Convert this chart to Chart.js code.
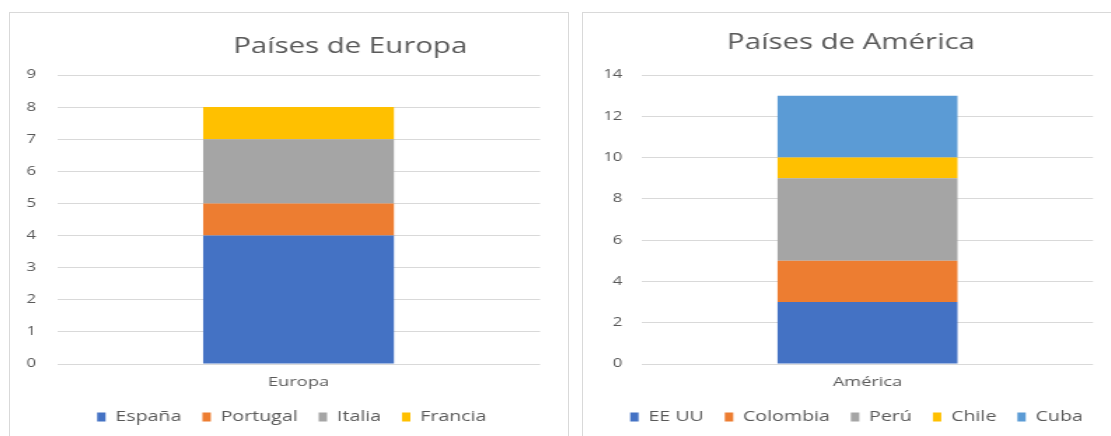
<!DOCTYPE html>
<html>
<head>
<meta charset="utf-8">
<script src="https://cdn.jsdelivr.net/npm/chart.js@4"></script>
<style>
  body { margin: 0; background: #fff; width: 1111px; height: 436px; overflow: hidden; position: relative; }
  .caja { position: absolute; top: 12px; height: 430px; border: 1px solid #d9d9d9; background: #fff; overflow: hidden; }
  #cajaEuropa { left: 9px; width: 558px; }
  #cajaAmerica { left: 582px; width: 542px; }
  .estirado { transform: scaleX(1.4); transform-origin: 0 0; }
  canvas { display: block; }
</style>
</head>
<body>
<div class="caja" id="cajaEuropa"><div class="estirado"><canvas id="graficoEuropa" width="399" height="424"></canvas></div></div>
<div class="caja" id="cajaAmerica"><div class="estirado"><canvas id="graficoAmerica" width="387" height="424"></canvas></div></div>
<script>
// Datos de Europa
const categoriaEuropa = ['Europa'];
const paisesEuropa = ['España', 'Portugal', 'Italia', 'Francia'];
const valoresEuropa = [4, 1, 2, 1];

// Datos de América
const categoriaAmerica = ['América'];
const paisesAmerica = ['EE UU', 'Colombia', 'Perú', 'Chile', 'Cuba'];
const valoresAmerica = [3, 2, 4, 1, 3];

const colores = ['#4472C4', '#ED7D31', '#A5A5A5', '#FFC000', '#5B9BD5'];
const fuente = "'Open Sans', 'DejaVu Sans', sans-serif";
const gris = '#595959';

// Título en posición fija y leyenda algo desplazada, como en el original de Excel
const ajustesExcel = {
  id: 'ajustesExcel',
  beforeDraw(chart, args, opts) {
    const leyenda = chart.legend;
    if (leyenda && !leyenda._desplazada) {
      leyenda.left += opts.leyendaX;
      leyenda.right += opts.leyendaX;
      leyenda._desplazada = true;
    }
  },
  afterDraw(chart, args, opts) {
    const ctx = chart.ctx;
    ctx.save();
    ctx.font = '21px ' + fuente;
    ctx.fillStyle = gris;
    ctx.textAlign = 'center';
    ctx.textBaseline = 'alphabetic';
    ctx.fillText(opts.texto, opts.x, opts.y);
    ctx.restore();
  },
};

function crearGrafico(id, titulo, tx, ty, leyendaX, categorias, paises, valores, maxY, paso, anchoEjeY, padEje, derecha, porcentaje) {
  const ctx = document.getElementById(id).getContext('2d');
  return new Chart(ctx, {
    type: 'bar',
    data: {
      labels: categorias,
      datasets: paises.map((p, i) => ({
        label: p,
        data: [valores[i]],
        backgroundColor: colores[i],
        borderWidth: 0,
        barPercentage: 1,
        categoryPercentage: porcentaje,
      })),
    },
    plugins: [ajustesExcel],
    options: {
      responsive: false,
      animation: false,
      layout: { padding: { left: 0, right: derecha, top: 62, bottom: 3 } },
      plugins: {
        ajustesExcel: { texto: titulo, x: tx, y: ty, leyendaX: leyendaX },
        legend: {
          position: 'bottom',
          labels: {
            color: gris,
            font: { family: fuente, size: 14 },
            boxWidth: 6,
            boxHeight: 9,
            padding: 15,
          },
        },
        tooltip: { enabled: false },
      },
      scales: {
        x: {
          stacked: true,
          grid: { display: false, drawTicks: false },
          border: { display: false },
          ticks: { color: gris, font: { family: fuente, size: 13 }, padding: 10 },
          afterFit: scale => { scale.height = 31; },
        },
        y: {
          stacked: true,
          min: 0,
          max: maxY,
          ticks: { stepSize: paso, color: gris, font: { family: fuente, size: 12 }, padding: padEje },
          grid: { color: '#d9d9d9', drawTicks: false },
          border: { display: false },
          afterFit: scale => { scale.width = anchoEjeY; },
        },
      },
    },
  });
}

crearGrafico('graficoEuropa', 'Países de Europa', 243, 40, 12, categoriaEuropa, paisesEuropa, valoresEuropa, 9, 1, 33.6, 15, 20.4, 0.395);
crearGrafico('graficoAmerica', 'Países de América', 191.4, 36, 13.2, categoriaAmerica, paisesAmerica, valoresAmerica, 14, 2, 42.1, 14, 22.7, 0.399);
</script>
</body>
</html>
